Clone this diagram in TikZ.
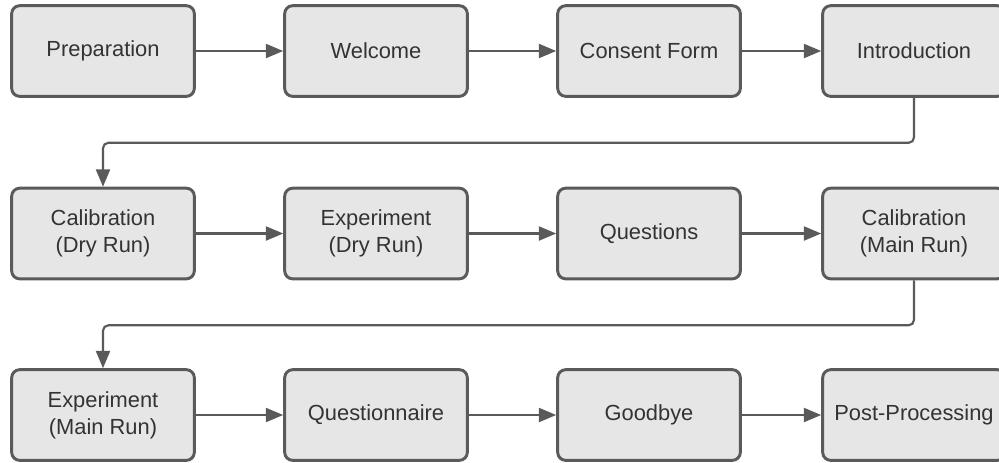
\documentclass[tikz,border=0pt]{standalone}
\usepackage{fontspec}
\setmainfont{Liberation Sans}
\usetikzlibrary{arrows.meta}
\definecolor{edge}{HTML}{5A5A5A}
\definecolor{boxfill}{HTML}{E6E6E6}
\definecolor{txt}{HTML}{333333}
\begin{document}
\begin{tikzpicture}[x=0.75pt,y=-0.75pt,
  stepbox/.style={draw=edge, fill=boxfill, line width=2.2pt, rounded corners=6pt,
    minimum width=137pt, minimum height=68pt, inner sep=0pt, align=center,
    text=txt, font=\fontsize{16.4}{20}\selectfont},
  link/.style={draw=edge, line width=1.6pt, -{Triangle[length=13pt,width=10.5pt]}},
  elbow/.style={link, rounded corners=4pt}]
\useasboundingbox (0,0) rectangle (999,462);
\clip (0,0) rectangle (999,462);
% row 1
\node[stepbox] (p)  at (103,51) {Preparation};
\node[stepbox] (w)  at (376,51) {Welcome};
\node[stepbox] (c)  at (649,51) {Consent Form};
\node[stepbox] (i)  at (914,51) {Introduction};
% row 2
\node[stepbox] (cd) at (103,233.5) {Calibration\\(Dry Run)};
\node[stepbox] (ed) at (376,233.5) {Experiment\\(Dry Run)};
\node[stepbox] (q)  at (649,233.5) {Questions};
\node[stepbox] (cm) at (914,233.5) {Calibration\\(Main Run)};
% row 3
\node[stepbox] (em) at (103,415) {Experiment\\(Main Run)};
\node[stepbox] (qn) at (376,415) {Questionnaire};
\node[stepbox] (g)  at (649,415) {Goodbye};
\node[stepbox] (pp) at (914,415) {Post-Processing};
% connectors
\draw[link] (p) -- (w);
\draw[link] (w) -- (c);
\draw[link] (c) -- (i);
\draw[elbow] (i.south) -- ++(0,45) -| (cd.north);
\draw[link] (cd) -- (ed);
\draw[link] (ed) -- (q);
\draw[link] (q) -- (cm);
\draw[elbow] (cm.south) -- ++(0,45) -| (em.north);
\draw[link] (em) -- (qn);
\draw[link] (qn) -- (g);
\draw[link] (g) -- (pp);
\end{tikzpicture}
\end{document}
